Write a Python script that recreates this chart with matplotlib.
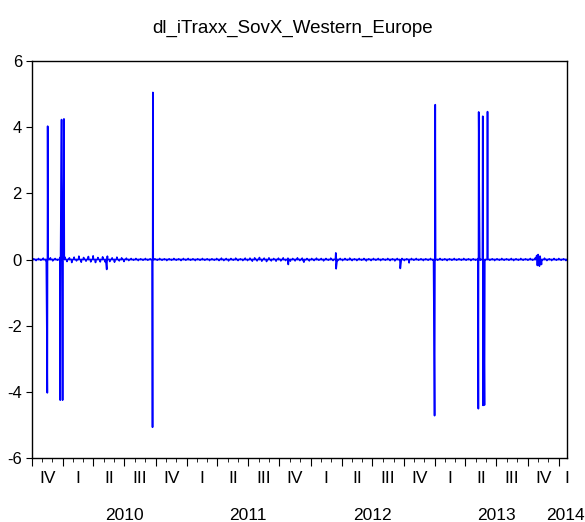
import matplotlib
matplotlib.use("Agg")
import matplotlib.pyplot as plt
import matplotlib.dates as mdates
import numpy as np
import pandas as pd

# daily (business day) log-differences, Oct 2009 - Jan 2014
start_date = "2009-10-01"
end_date = "2014-01-24"

# small week-to-week wiggle of the series (in hundredths)
weekly_noise = [
    2, -3, 3, -2, 4, -3, 2, 5, -4, 3, -2, 6, -5,
    8, -6, 5, -9, 7, -4, 10, -8, 6, -5, 9, -7, 11,
    -9, 6, -7, 8, -7, 10, -6, 5, -8, 7, -4, 5, -6,
    4, -3, 3, -2, 3, -3, 2, -2, 3, -2, 2, -3, 2,
    -2, 3, -2, 2, -3, 2, -2, 3, -2, 2, -3, 3, -2,
    3, -2, 2, -3, 2, -2, 3, -2, 2, -3, 2, -2, 3,
    -3, 4, -3, 3, -4, 3, -2, 4, -3, 2, -3, 4, -3,
    4, -5, 5, -4, 6, -5, 4, -6, 5, -4, 3, -5, 4,
    -4, 5, -3, 4, -5, 3, -4, 5, -3, 4, -3, 3, -4,
    3, -3, 4, -2, 3, -4, 3, -2, 4, -3, 2, -3, 3,
    -3, 3, -2, 4, -3, 2, -3, 3, -2, 3, -4, 2, -3,
    3, -2, 3, -3, 2, -2, 3, -3, 2, -4, 3, -2, 3,
    -3, 2, -4, 3, -2, 3, -2, 2, -3, 2, -2, 3, -2,
    2, -2, 3, -2, 2, -3, 2, -2, 3, -2, 2, -2, 3,
    -2, 2, -3, 2, -2, 3, -2, 2, -2, 3, -2, 2, -3,
    2, -2, 3, -2, 2, -2, 3, -3, 2, -2, 3, -2, 2,
    -2, 3, -2, 4, -3, 3, -2, 4, -3, 2, -3, 3, -2,
    3, -2, 2, -3,
]

# spikes and larger moves
event_dates = [
    "2009-11-16", "2009-11-17",
    "2009-12-24", "2009-12-28", "2009-12-31", "2010-01-04",
    "2010-05-10",
    "2010-09-22", "2010-09-23",
    "2011-10-27", "2011-12-12",
    "2012-03-15", "2012-03-16",
    "2012-09-21", "2012-10-17",
    "2012-12-31", "2013-01-02",
    "2013-05-09", "2013-05-10", "2013-05-22", "2013-05-23", "2013-05-27", "2013-06-05",
    "2013-10-28", "2013-10-30", "2013-11-01", "2013-11-05", "2013-11-07", "2013-11-11",
]
event_values = [
    -4.03, 4.03,
    -4.25, 4.23, -4.25, 4.25,
    -0.30,
    -5.07, 5.05,
    -0.15, -0.08,
    0.20, -0.28,
    -0.27, -0.10,
    -4.72, 4.68,
    -4.51, 4.46, 4.33, -4.41, -4.40, 4.47,
    0.12, -0.18, 0.15, -0.20, 0.10, -0.15,
]

quarter_names = ["I", "II", "III", "IV"]
year_labels = ["2010", "2011", "2012", "2013", "2014"]

# build the daily series
dates = pd.bdate_range(start_date, end_date)
vals = np.zeros(len(dates))
week_dates = pd.Timestamp("2009-10-07") + pd.to_timedelta(7 * np.arange(len(weekly_noise)), unit="D")
idx = dates.get_indexer(week_dates)
ok = idx >= 0
vals[idx[ok]] = np.array(weekly_noise)[ok] / 100.0
ev_idx = dates.get_indexer(pd.to_datetime(event_dates))
vals[ev_idx] = event_values

plt.rcParams["font.family"] = ["Liberation Sans", "DejaVu Sans"]
plt.rcParams["axes.unicode_minus"] = False

fig = plt.figure(figsize=(5.85, 5.22), dpi=100)
ax = fig.add_axes([0.0542, 0.1226, 0.9155, 0.7605])
ax.plot(dates, vals, color="#0000ff", lw=1.2)

x0 = pd.Timestamp("2009-10-01")
x1 = pd.Timestamp("2014-01-26")
ax.set_xlim(x0, x1)
ax.set_ylim(-6, 6)
ax.set_yticks([-6, -4, -2, 0, 2, 4, 6])
ax.tick_params(axis="y", direction="out", length=4, width=0.8, labelsize=12, pad=3)

# month ticks (minor) and quarter ticks (major), labels placed by hand
ax.xaxis.set_major_locator(mdates.MonthLocator(bymonth=[1, 4, 7, 10]))
ax.xaxis.set_minor_locator(mdates.MonthLocator())
ax.xaxis.set_major_formatter(plt.NullFormatter())
ax.tick_params(axis="x", which="major", direction="out", length=6, width=0.8)
ax.tick_params(axis="x", which="minor", direction="out", length=3, width=0.6)

for sp in ax.spines.values():
    sp.set_linewidth(1.0)
    sp.set_color("black")

tr = ax.get_xaxis_transform()
q_starts = pd.date_range("2009-10-01", "2014-01-01", freq="QS")
for qs in q_starts[:-1]:
    qe = qs + pd.offsets.QuarterBegin(startingMonth=1)
    mid = qs + (qe - qs) / 2
    ax.text(mid, -0.052, quarter_names[(qs.month - 1) // 3], transform=tr,
            ha="center", va="center", fontsize=12.5)
ax.text(x1, -0.052, "I", transform=tr, ha="center", va="center", fontsize=12.5)

for lab in year_labels:
    if lab == "2014":
        xp = pd.Timestamp("2014-01-20")
    else:
        xp = pd.Timestamp(lab + "-07-01")
    ax.text(xp, -0.145, lab, transform=tr, ha="center", va="center", fontsize=12.5)

fig.suptitle("dl_iTraxx_SovX_Western_Europe", y=0.962, fontsize=13.5)

fig.savefig("out.png", dpi=100)
plt.close(fig)
